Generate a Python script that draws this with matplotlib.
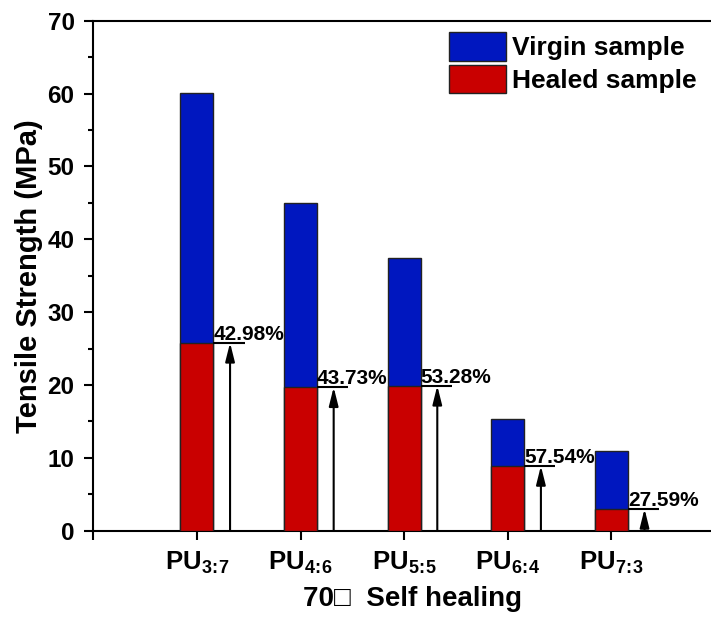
import numpy as np
import matplotlib
matplotlib.use("Agg")
import matplotlib.pyplot as plt
from matplotlib.ticker import MultipleLocator, FixedLocator

samples = ["3:7", "4:6", "5:5", "6:4", "7:3"]
virgin = [60.1, 45.0, 37.4, 15.4, 10.9]
healed = [25.8, 19.7, 19.9, 8.9, 3.0]
efficiency = ["42.98%", "43.73%", "53.28%", "57.54%", "27.59%"]

plt.rcParams['font.family'] = ['Liberation Sans', 'DejaVu Sans']
plt.rcParams['font.weight'] = 'bold'
plt.rcParams['mathtext.fontset'] = 'custom'
plt.rcParams['mathtext.rm'] = 'Liberation Sans:bold'
plt.rcParams['mathtext.it'] = 'Liberation Sans:bold'
plt.rcParams['mathtext.bf'] = 'Liberation Sans:bold'

blue = '#0017BF'
red = '#C90000'
w = 0.32

fig = plt.figure(figsize=(7.11, 6.19), dpi=100)
ax = fig.add_axes([0.1312, 0.1426, 0.8744, 0.824])

x = np.arange(1, len(samples) + 1)
ax.bar(x, virgin, width=w, color=blue, edgecolor='#222222', linewidth=1, label='Virgin sample', zorder=2)
ax.bar(x, healed, width=w, color=red, edgecolor='#222222', linewidth=1, label='Healed sample', zorder=3)

for xi, h, txt in zip(x, healed, efficiency):
    ax.plot([xi + w / 2, xi + 0.46], [h, h], color='black', lw=1.5, zorder=4, solid_capstyle='butt')
    ax.annotate('', xy=(xi + 0.32, h), xytext=(xi + 0.32, 0),
                arrowprops=dict(arrowstyle='-|>,head_length=0.8,head_width=0.2', color='black',
                                lw=1.5, mutation_scale=14, shrinkA=0, shrinkB=0), zorder=4)
    ax.annotate(txt, xy=(xi + w / 2, h), xytext=(0, 2), textcoords='offset points',
                ha='left', va='baseline', fontsize=15, fontweight='bold', zorder=5)

ax.set_xlim(0, 6)
ax.set_ylim(0, 70)
ax.xaxis.set_major_locator(FixedLocator(range(0, 7)))
ax.set_xticklabels([''] + [r'PU$_{%s\!:\!%s}$' % tuple(s.split(':')) for s in samples] + [''])
ax.yaxis.set_major_locator(MultipleLocator(10))
ax.yaxis.set_minor_locator(MultipleLocator(5))

for side in ['left', 'bottom', 'top', 'right']:
    ax.spines[side].set_linewidth(1.5)
ax.tick_params(axis='both', which='major', direction='out', length=6.5, width=1.5)
ax.tick_params(axis='y', which='minor', direction='out', length=3.5, width=1.5)
ax.tick_params(axis='y', labelsize=17.5, pad=7)
ax.tick_params(axis='x', labelsize=18.5, pad=7)
for lab in ax.get_yticklabels() + ax.get_xticklabels():
    lab.set_fontweight('bold')

ax.set_ylabel('Tensile Strength (MPa)', fontsize=21, fontweight='bold')
ax.yaxis.set_label_coords(-0.081, 0.5)
ax.set_xlabel('70\u25a1  Self healing', fontsize=20, fontweight='bold')
ax.xaxis.set_label_coords(0.514, -0.108)

ax.legend(loc='upper left', bbox_to_anchor=(0.572, 0.978), frameon=False,
          prop={'size': 19, 'weight': 'bold'}, handlelength=2.16, handleheight=1.3,
          handletextpad=0.25, labelspacing=0.15, borderpad=0, borderaxespad=0)

fig.savefig('out.png', dpi=100)
